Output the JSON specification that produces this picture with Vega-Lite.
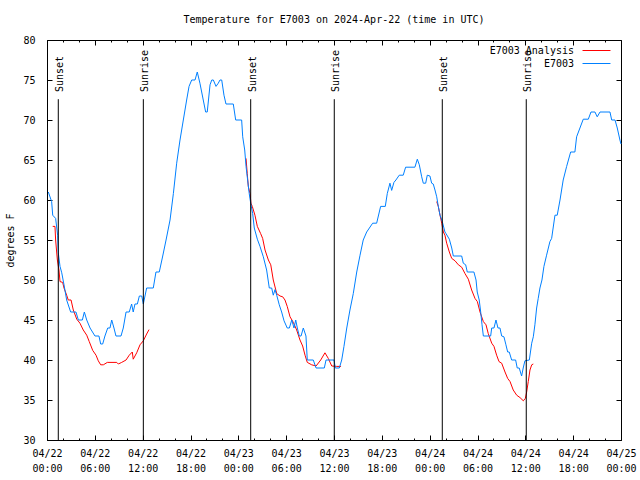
{
  "$schema": "https://vega.github.io/schema/vega-lite/v6.json",
  "width": 574,
  "height": 400,
  "autosize": {"type": "none"},
  "padding": {"left": 47, "top": 40, "right": 19, "bottom": 40},
  "background": "white",
  "title": {"text": "Temperature for E7003 on 2024-Apr-22 (time in UTC)", "font": "DejaVu Sans Mono", "fontSize": 10, "fontWeight": "normal", "color": "black", "offset": 10, "anchor": "middle"},
  "config": {
    "view": {"stroke": "black", "strokeWidth": 1},
    "axis": {"domainColor": "black", "tickColor": "black", "labelColor": "black", "labelFont": "DejaVu Sans Mono", "labelFontSize": 10, "grid": false, "titleFont": "DejaVu Sans Mono", "titleFontSize": 10, "titleFontWeight": "normal", "titleColor": "black"}
  },
  "datasets": {
    "sun": [
      {"t": "2024-04-22T01:25Z", "label": "Sunset"},
      {"t": "2024-04-22T12:05Z", "label": "Sunrise"},
      {"t": "2024-04-23T01:33Z", "label": "Sunset"},
      {"t": "2024-04-23T12:02Z", "label": "Sunrise"},
      {"t": "2024-04-24T01:35Z", "label": "Sunset"},
      {"t": "2024-04-24T12:07Z", "label": "Sunrise"}
    ],
    "ana": [
      {"s": "E7003 Analysis", "r": "a", "t": "2024-04-22T00:43Z", "v": 56.7},
      {"s": "E7003 Analysis", "r": "a", "t": "2024-04-22T01:00Z", "v": 56.7},
      {"s": "E7003 Analysis", "r": "a", "t": "2024-04-22T01:05Z", "v": 55},
      {"s": "E7003 Analysis", "r": "a", "t": "2024-04-22T01:18Z", "v": 52.5},
      {"s": "E7003 Analysis", "r": "a", "t": "2024-04-22T01:30Z", "v": 51.25},
      {"s": "E7003 Analysis", "r": "a", "t": "2024-04-22T01:38Z", "v": 49.8},
      {"s": "E7003 Analysis", "r": "a", "t": "2024-04-22T01:58Z", "v": 49.7},
      {"s": "E7003 Analysis", "r": "a", "t": "2024-04-22T02:08Z", "v": 49},
      {"s": "E7003 Analysis", "r": "a", "t": "2024-04-22T02:28Z", "v": 48.1},
      {"s": "E7003 Analysis", "r": "a", "t": "2024-04-22T02:40Z", "v": 47.5},
      {"s": "E7003 Analysis", "r": "a", "t": "2024-04-22T03:01Z", "v": 47.5},
      {"s": "E7003 Analysis", "r": "a", "t": "2024-04-22T03:18Z", "v": 46.25},
      {"s": "E7003 Analysis", "r": "a", "t": "2024-04-22T03:44Z", "v": 45.1},
      {"s": "E7003 Analysis", "r": "a", "t": "2024-04-22T04:08Z", "v": 44.6},
      {"s": "E7003 Analysis", "r": "a", "t": "2024-04-22T04:33Z", "v": 43.75},
      {"s": "E7003 Analysis", "r": "a", "t": "2024-04-22T04:59Z", "v": 43.1},
      {"s": "E7003 Analysis", "r": "a", "t": "2024-04-22T05:18Z", "v": 42.3},
      {"s": "E7003 Analysis", "r": "a", "t": "2024-04-22T05:44Z", "v": 41.2},
      {"s": "E7003 Analysis", "r": "a", "t": "2024-04-22T06:09Z", "v": 40.6},
      {"s": "E7003 Analysis", "r": "a", "t": "2024-04-22T06:26Z", "v": 39.9},
      {"s": "E7003 Analysis", "r": "a", "t": "2024-04-22T06:44Z", "v": 39.4},
      {"s": "E7003 Analysis", "r": "a", "t": "2024-04-22T07:04Z", "v": 39.4},
      {"s": "E7003 Analysis", "r": "a", "t": "2024-04-22T07:34Z", "v": 39.7},
      {"s": "E7003 Analysis", "r": "a", "t": "2024-04-22T08:45Z", "v": 39.7},
      {"s": "E7003 Analysis", "r": "a", "t": "2024-04-22T08:57Z", "v": 39.5},
      {"s": "E7003 Analysis", "r": "a", "t": "2024-04-22T09:22Z", "v": 39.7},
      {"s": "E7003 Analysis", "r": "a", "t": "2024-04-22T09:55Z", "v": 40},
      {"s": "E7003 Analysis", "r": "a", "t": "2024-04-22T10:19Z", "v": 40.6},
      {"s": "E7003 Analysis", "r": "a", "t": "2024-04-22T10:42Z", "v": 41},
      {"s": "E7003 Analysis", "r": "a", "t": "2024-04-22T10:49Z", "v": 40.1},
      {"s": "E7003 Analysis", "r": "a", "t": "2024-04-22T11:15Z", "v": 40.9},
      {"s": "E7003 Analysis", "r": "a", "t": "2024-04-22T11:40Z", "v": 41.9},
      {"s": "E7003 Analysis", "r": "a", "t": "2024-04-22T12:05Z", "v": 42.4},
      {"s": "E7003 Analysis", "r": "a", "t": "2024-04-22T12:30Z", "v": 43.25},
      {"s": "E7003 Analysis", "r": "a", "t": "2024-04-22T12:48Z", "v": 43.8},
      {"s": "E7003 Analysis", "r": "b", "t": "2024-04-23T00:58Z", "v": 65.2},
      {"s": "E7003 Analysis", "r": "b", "t": "2024-04-23T01:07Z", "v": 63.3},
      {"s": "E7003 Analysis", "r": "b", "t": "2024-04-23T01:15Z", "v": 61.7},
      {"s": "E7003 Analysis", "r": "b", "t": "2024-04-23T01:28Z", "v": 60.8},
      {"s": "E7003 Analysis", "r": "b", "t": "2024-04-23T01:35Z", "v": 59.6},
      {"s": "E7003 Analysis", "r": "b", "t": "2024-04-23T01:45Z", "v": 59.2},
      {"s": "E7003 Analysis", "r": "b", "t": "2024-04-23T02:05Z", "v": 58.1},
      {"s": "E7003 Analysis", "r": "b", "t": "2024-04-23T02:23Z", "v": 56.7},
      {"s": "E7003 Analysis", "r": "b", "t": "2024-04-23T02:48Z", "v": 55.8},
      {"s": "E7003 Analysis", "r": "b", "t": "2024-04-23T03:03Z", "v": 55.2},
      {"s": "E7003 Analysis", "r": "b", "t": "2024-04-23T03:21Z", "v": 53.75},
      {"s": "E7003 Analysis", "r": "b", "t": "2024-04-23T03:46Z", "v": 52.5},
      {"s": "E7003 Analysis", "r": "b", "t": "2024-04-23T04:04Z", "v": 51.9},
      {"s": "E7003 Analysis", "r": "b", "t": "2024-04-23T04:23Z", "v": 50},
      {"s": "E7003 Analysis", "r": "b", "t": "2024-04-23T04:49Z", "v": 48.3},
      {"s": "E7003 Analysis", "r": "b", "t": "2024-04-23T05:14Z", "v": 48},
      {"s": "E7003 Analysis", "r": "b", "t": "2024-04-23T05:34Z", "v": 47.9},
      {"s": "E7003 Analysis", "r": "b", "t": "2024-04-23T05:51Z", "v": 47.5},
      {"s": "E7003 Analysis", "r": "b", "t": "2024-04-23T06:08Z", "v": 46.7},
      {"s": "E7003 Analysis", "r": "b", "t": "2024-04-23T06:29Z", "v": 45.4},
      {"s": "E7003 Analysis", "r": "b", "t": "2024-04-23T06:54Z", "v": 44.7},
      {"s": "E7003 Analysis", "r": "b", "t": "2024-04-23T07:19Z", "v": 43.75},
      {"s": "E7003 Analysis", "r": "b", "t": "2024-04-23T07:44Z", "v": 42.5},
      {"s": "E7003 Analysis", "r": "b", "t": "2024-04-23T08:04Z", "v": 41.75},
      {"s": "E7003 Analysis", "r": "b", "t": "2024-04-23T08:22Z", "v": 40.6},
      {"s": "E7003 Analysis", "r": "b", "t": "2024-04-23T08:39Z", "v": 39.7},
      {"s": "E7003 Analysis", "r": "b", "t": "2024-04-23T09:12Z", "v": 39.4},
      {"s": "E7003 Analysis", "r": "b", "t": "2024-04-23T09:45Z", "v": 39.25},
      {"s": "E7003 Analysis", "r": "b", "t": "2024-04-23T10:20Z", "v": 40},
      {"s": "E7003 Analysis", "r": "b", "t": "2024-04-23T10:52Z", "v": 40.9},
      {"s": "E7003 Analysis", "r": "b", "t": "2024-04-23T11:17Z", "v": 40.2},
      {"s": "E7003 Analysis", "r": "b", "t": "2024-04-23T11:43Z", "v": 39.25},
      {"s": "E7003 Analysis", "r": "b", "t": "2024-04-23T12:20Z", "v": 39.2},
      {"s": "E7003 Analysis", "r": "b", "t": "2024-04-23T12:53Z", "v": 39.2},
      {"s": "E7003 Analysis", "r": "c", "t": "2024-04-24T00:53Z", "v": 59.8},
      {"s": "E7003 Analysis", "r": "c", "t": "2024-04-24T01:05Z", "v": 59.2},
      {"s": "E7003 Analysis", "r": "c", "t": "2024-04-24T01:18Z", "v": 58.1},
      {"s": "E7003 Analysis", "r": "c", "t": "2024-04-24T01:31Z", "v": 57.1},
      {"s": "E7003 Analysis", "r": "c", "t": "2024-04-24T01:43Z", "v": 56},
      {"s": "E7003 Analysis", "r": "c", "t": "2024-04-24T01:55Z", "v": 55.6},
      {"s": "E7003 Analysis", "r": "c", "t": "2024-04-24T02:08Z", "v": 54.6},
      {"s": "E7003 Analysis", "r": "c", "t": "2024-04-24T02:28Z", "v": 53.5},
      {"s": "E7003 Analysis", "r": "c", "t": "2024-04-24T02:46Z", "v": 52.7},
      {"s": "E7003 Analysis", "r": "c", "t": "2024-04-24T03:11Z", "v": 52.4},
      {"s": "E7003 Analysis", "r": "c", "t": "2024-04-24T03:36Z", "v": 51.9},
      {"s": "E7003 Analysis", "r": "c", "t": "2024-04-24T04:01Z", "v": 51.6},
      {"s": "E7003 Analysis", "r": "c", "t": "2024-04-24T04:26Z", "v": 50.8},
      {"s": "E7003 Analysis", "r": "c", "t": "2024-04-24T04:51Z", "v": 50.1},
      {"s": "E7003 Analysis", "r": "c", "t": "2024-04-24T05:16Z", "v": 48.75},
      {"s": "E7003 Analysis", "r": "c", "t": "2024-04-24T05:41Z", "v": 47.7},
      {"s": "E7003 Analysis", "r": "c", "t": "2024-04-24T05:59Z", "v": 47.3},
      {"s": "E7003 Analysis", "r": "c", "t": "2024-04-24T06:19Z", "v": 46},
      {"s": "E7003 Analysis", "r": "c", "t": "2024-04-24T06:44Z", "v": 44.8},
      {"s": "E7003 Analysis", "r": "c", "t": "2024-04-24T07:04Z", "v": 44.4},
      {"s": "E7003 Analysis", "r": "c", "t": "2024-04-24T07:21Z", "v": 43.3},
      {"s": "E7003 Analysis", "r": "c", "t": "2024-04-24T07:47Z", "v": 42.1},
      {"s": "E7003 Analysis", "r": "c", "t": "2024-04-24T08:04Z", "v": 41.7},
      {"s": "E7003 Analysis", "r": "c", "t": "2024-04-24T08:24Z", "v": 40.6},
      {"s": "E7003 Analysis", "r": "c", "t": "2024-04-24T08:42Z", "v": 39.8},
      {"s": "E7003 Analysis", "r": "c", "t": "2024-04-24T09:02Z", "v": 39.6},
      {"s": "E7003 Analysis", "r": "c", "t": "2024-04-24T09:27Z", "v": 38.5},
      {"s": "E7003 Analysis", "r": "c", "t": "2024-04-24T09:47Z", "v": 37.7},
      {"s": "E7003 Analysis", "r": "c", "t": "2024-04-24T10:05Z", "v": 37.3},
      {"s": "E7003 Analysis", "r": "c", "t": "2024-04-24T10:29Z", "v": 36.25},
      {"s": "E7003 Analysis", "r": "c", "t": "2024-04-24T10:55Z", "v": 35.6},
      {"s": "E7003 Analysis", "r": "c", "t": "2024-04-24T11:20Z", "v": 35.3},
      {"s": "E7003 Analysis", "r": "c", "t": "2024-04-24T11:45Z", "v": 34.9},
      {"s": "E7003 Analysis", "r": "c", "t": "2024-04-24T12:00Z", "v": 35.2},
      {"s": "E7003 Analysis", "r": "c", "t": "2024-04-24T12:10Z", "v": 36},
      {"s": "E7003 Analysis", "r": "c", "t": "2024-04-24T12:22Z", "v": 37.3},
      {"s": "E7003 Analysis", "r": "c", "t": "2024-04-24T12:35Z", "v": 38.75},
      {"s": "E7003 Analysis", "r": "c", "t": "2024-04-24T12:48Z", "v": 39.4},
      {"s": "E7003 Analysis", "r": "c", "t": "2024-04-24T13:00Z", "v": 39.5}
    ],
    "obs": [
      {"s": "E7003", "t": "2024-04-22T00:10Z", "v": 61},
      {"s": "E7003", "t": "2024-04-22T00:35Z", "v": 59.8},
      {"s": "E7003", "t": "2024-04-22T00:43Z", "v": 58.1},
      {"s": "E7003", "t": "2024-04-22T01:05Z", "v": 57.7},
      {"s": "E7003", "t": "2024-04-22T01:20Z", "v": 55.6},
      {"s": "E7003", "t": "2024-04-22T01:25Z", "v": 53.4},
      {"s": "E7003", "t": "2024-04-22T01:38Z", "v": 51.7},
      {"s": "E7003", "t": "2024-04-22T01:51Z", "v": 50.9},
      {"s": "E7003", "t": "2024-04-22T02:08Z", "v": 49.4},
      {"s": "E7003", "t": "2024-04-22T02:28Z", "v": 47.5},
      {"s": "E7003", "t": "2024-04-22T02:58Z", "v": 46},
      {"s": "E7003", "t": "2024-04-22T03:38Z", "v": 46},
      {"s": "E7003", "t": "2024-04-22T03:56Z", "v": 45},
      {"s": "E7003", "t": "2024-04-22T04:26Z", "v": 45},
      {"s": "E7003", "t": "2024-04-22T04:41Z", "v": 46},
      {"s": "E7003", "t": "2024-04-22T04:59Z", "v": 45},
      {"s": "E7003", "t": "2024-04-22T05:24Z", "v": 44},
      {"s": "E7003", "t": "2024-04-22T06:01Z", "v": 43},
      {"s": "E7003", "t": "2024-04-22T06:31Z", "v": 43},
      {"s": "E7003", "t": "2024-04-22T06:44Z", "v": 42},
      {"s": "E7003", "t": "2024-04-22T06:59Z", "v": 42},
      {"s": "E7003", "t": "2024-04-22T07:16Z", "v": 43},
      {"s": "E7003", "t": "2024-04-22T07:37Z", "v": 44},
      {"s": "E7003", "t": "2024-04-22T07:54Z", "v": 44},
      {"s": "E7003", "t": "2024-04-22T08:07Z", "v": 45},
      {"s": "E7003", "t": "2024-04-22T08:24Z", "v": 44},
      {"s": "E7003", "t": "2024-04-22T08:39Z", "v": 43},
      {"s": "E7003", "t": "2024-04-22T09:17Z", "v": 43},
      {"s": "E7003", "t": "2024-04-22T09:34Z", "v": 44},
      {"s": "E7003", "t": "2024-04-22T09:55Z", "v": 46},
      {"s": "E7003", "t": "2024-04-22T10:19Z", "v": 46},
      {"s": "E7003", "t": "2024-04-22T10:37Z", "v": 47},
      {"s": "E7003", "t": "2024-04-22T10:49Z", "v": 46},
      {"s": "E7003", "t": "2024-04-22T11:02Z", "v": 47},
      {"s": "E7003", "t": "2024-04-22T11:20Z", "v": 47},
      {"s": "E7003", "t": "2024-04-22T11:35Z", "v": 48},
      {"s": "E7003", "t": "2024-04-22T11:53Z", "v": 48},
      {"s": "E7003", "t": "2024-04-22T12:05Z", "v": 47},
      {"s": "E7003", "t": "2024-04-22T12:30Z", "v": 49},
      {"s": "E7003", "t": "2024-04-22T13:20Z", "v": 49},
      {"s": "E7003", "t": "2024-04-22T13:40Z", "v": 51},
      {"s": "E7003", "t": "2024-04-22T14:05Z", "v": 51},
      {"s": "E7003", "t": "2024-04-22T14:31Z", "v": 53},
      {"s": "E7003", "t": "2024-04-22T14:56Z", "v": 55},
      {"s": "E7003", "t": "2024-04-22T15:26Z", "v": 57.5},
      {"s": "E7003", "t": "2024-04-22T15:51Z", "v": 60.8},
      {"s": "E7003", "t": "2024-04-22T16:16Z", "v": 64.6},
      {"s": "E7003", "t": "2024-04-22T16:41Z", "v": 67.5},
      {"s": "E7003", "t": "2024-04-22T17:06Z", "v": 70},
      {"s": "E7003", "t": "2024-04-22T17:31Z", "v": 72.5},
      {"s": "E7003", "t": "2024-04-22T17:49Z", "v": 74.2},
      {"s": "E7003", "t": "2024-04-22T18:09Z", "v": 75},
      {"s": "E7003", "t": "2024-04-22T18:34Z", "v": 75},
      {"s": "E7003", "t": "2024-04-22T18:51Z", "v": 76},
      {"s": "E7003", "t": "2024-04-22T19:11Z", "v": 74.6},
      {"s": "E7003", "t": "2024-04-22T19:36Z", "v": 72.5},
      {"s": "E7003", "t": "2024-04-22T19:54Z", "v": 71},
      {"s": "E7003", "t": "2024-04-22T20:06Z", "v": 71},
      {"s": "E7003", "t": "2024-04-22T20:27Z", "v": 74.4},
      {"s": "E7003", "t": "2024-04-22T20:40Z", "v": 75},
      {"s": "E7003", "t": "2024-04-22T20:52Z", "v": 75},
      {"s": "E7003", "t": "2024-04-22T21:12Z", "v": 74.2},
      {"s": "E7003", "t": "2024-04-22T21:29Z", "v": 74.6},
      {"s": "E7003", "t": "2024-04-22T21:42Z", "v": 75},
      {"s": "E7003", "t": "2024-04-22T21:55Z", "v": 75},
      {"s": "E7003", "t": "2024-04-22T22:12Z", "v": 73.1},
      {"s": "E7003", "t": "2024-04-22T22:27Z", "v": 72},
      {"s": "E7003", "t": "2024-04-22T23:22Z", "v": 72},
      {"s": "E7003", "t": "2024-04-22T23:40Z", "v": 70},
      {"s": "E7003", "t": "2024-04-23T00:25Z", "v": 70},
      {"s": "E7003", "t": "2024-04-23T00:33Z", "v": 67.9},
      {"s": "E7003", "t": "2024-04-23T00:48Z", "v": 66.25},
      {"s": "E7003", "t": "2024-04-23T00:58Z", "v": 64.2},
      {"s": "E7003", "t": "2024-04-23T01:10Z", "v": 62.5},
      {"s": "E7003", "t": "2024-04-23T01:22Z", "v": 60.8},
      {"s": "E7003", "t": "2024-04-23T01:33Z", "v": 59.6},
      {"s": "E7003", "t": "2024-04-23T01:48Z", "v": 58.3},
      {"s": "E7003", "t": "2024-04-23T02:00Z", "v": 56.5},
      {"s": "E7003", "t": "2024-04-23T02:23Z", "v": 55.1},
      {"s": "E7003", "t": "2024-04-23T02:43Z", "v": 54.2},
      {"s": "E7003", "t": "2024-04-23T03:08Z", "v": 52.9},
      {"s": "E7003", "t": "2024-04-23T03:33Z", "v": 51.25},
      {"s": "E7003", "t": "2024-04-23T03:53Z", "v": 49},
      {"s": "E7003", "t": "2024-04-23T04:11Z", "v": 49},
      {"s": "E7003", "t": "2024-04-23T04:23Z", "v": 48.1},
      {"s": "E7003", "t": "2024-04-23T04:36Z", "v": 48.8},
      {"s": "E7003", "t": "2024-04-23T04:49Z", "v": 48.1},
      {"s": "E7003", "t": "2024-04-23T05:08Z", "v": 46.9},
      {"s": "E7003", "t": "2024-04-23T05:26Z", "v": 46},
      {"s": "E7003", "t": "2024-04-23T05:44Z", "v": 44.9},
      {"s": "E7003", "t": "2024-04-23T06:08Z", "v": 44},
      {"s": "E7003", "t": "2024-04-23T06:24Z", "v": 44},
      {"s": "E7003", "t": "2024-04-23T06:42Z", "v": 45},
      {"s": "E7003", "t": "2024-04-23T06:59Z", "v": 44},
      {"s": "E7003", "t": "2024-04-23T07:12Z", "v": 45},
      {"s": "E7003", "t": "2024-04-23T07:24Z", "v": 44},
      {"s": "E7003", "t": "2024-04-23T07:39Z", "v": 43},
      {"s": "E7003", "t": "2024-04-23T07:52Z", "v": 43},
      {"s": "E7003", "t": "2024-04-23T08:09Z", "v": 44},
      {"s": "E7003", "t": "2024-04-23T08:29Z", "v": 43},
      {"s": "E7003", "t": "2024-04-23T08:39Z", "v": 40},
      {"s": "E7003", "t": "2024-04-23T09:24Z", "v": 40},
      {"s": "E7003", "t": "2024-04-23T09:45Z", "v": 39},
      {"s": "E7003", "t": "2024-04-23T10:47Z", "v": 39},
      {"s": "E7003", "t": "2024-04-23T11:00Z", "v": 40},
      {"s": "E7003", "t": "2024-04-23T12:00Z", "v": 40},
      {"s": "E7003", "t": "2024-04-23T12:10Z", "v": 39},
      {"s": "E7003", "t": "2024-04-23T12:40Z", "v": 39},
      {"s": "E7003", "t": "2024-04-23T12:58Z", "v": 40},
      {"s": "E7003", "t": "2024-04-23T13:15Z", "v": 41.7},
      {"s": "E7003", "t": "2024-04-23T13:36Z", "v": 44},
      {"s": "E7003", "t": "2024-04-23T14:00Z", "v": 46.25},
      {"s": "E7003", "t": "2024-04-23T14:25Z", "v": 48.3},
      {"s": "E7003", "t": "2024-04-23T14:51Z", "v": 51},
      {"s": "E7003", "t": "2024-04-23T15:16Z", "v": 53.1},
      {"s": "E7003", "t": "2024-04-23T15:40Z", "v": 55},
      {"s": "E7003", "t": "2024-04-23T16:06Z", "v": 56},
      {"s": "E7003", "t": "2024-04-23T16:51Z", "v": 57.1},
      {"s": "E7003", "t": "2024-04-23T17:21Z", "v": 57.1},
      {"s": "E7003", "t": "2024-04-23T17:51Z", "v": 59.2},
      {"s": "E7003", "t": "2024-04-23T18:26Z", "v": 59.2},
      {"s": "E7003", "t": "2024-04-23T18:41Z", "v": 60.8},
      {"s": "E7003", "t": "2024-04-23T19:01Z", "v": 62.1},
      {"s": "E7003", "t": "2024-04-23T19:14Z", "v": 61.2},
      {"s": "E7003", "t": "2024-04-23T19:31Z", "v": 62.2},
      {"s": "E7003", "t": "2024-04-23T19:46Z", "v": 62.5},
      {"s": "E7003", "t": "2024-04-23T20:11Z", "v": 63.1},
      {"s": "E7003", "t": "2024-04-23T20:41Z", "v": 63.1},
      {"s": "E7003", "t": "2024-04-23T20:59Z", "v": 64.1},
      {"s": "E7003", "t": "2024-04-23T22:09Z", "v": 64.1},
      {"s": "E7003", "t": "2024-04-23T22:27Z", "v": 65.1},
      {"s": "E7003", "t": "2024-04-23T22:42Z", "v": 64.4},
      {"s": "E7003", "t": "2024-04-23T23:00Z", "v": 62.9},
      {"s": "E7003", "t": "2024-04-23T23:12Z", "v": 62.1},
      {"s": "E7003", "t": "2024-04-23T23:30Z", "v": 62.1},
      {"s": "E7003", "t": "2024-04-23T23:42Z", "v": 63.1},
      {"s": "E7003", "t": "2024-04-24T00:02Z", "v": 63},
      {"s": "E7003", "t": "2024-04-24T00:15Z", "v": 62.1},
      {"s": "E7003", "t": "2024-04-24T00:27Z", "v": 62},
      {"s": "E7003", "t": "2024-04-24T00:40Z", "v": 61.25},
      {"s": "E7003", "t": "2024-04-24T00:53Z", "v": 60.4},
      {"s": "E7003", "t": "2024-04-24T01:05Z", "v": 59.2},
      {"s": "E7003", "t": "2024-04-24T01:18Z", "v": 58.1},
      {"s": "E7003", "t": "2024-04-24T01:35Z", "v": 57.3},
      {"s": "E7003", "t": "2024-04-24T01:55Z", "v": 56},
      {"s": "E7003", "t": "2024-04-24T02:03Z", "v": 55.8},
      {"s": "E7003", "t": "2024-04-24T02:28Z", "v": 55.1},
      {"s": "E7003", "t": "2024-04-24T02:46Z", "v": 54},
      {"s": "E7003", "t": "2024-04-24T02:58Z", "v": 53},
      {"s": "E7003", "t": "2024-04-24T04:01Z", "v": 53},
      {"s": "E7003", "t": "2024-04-24T04:13Z", "v": 52.1},
      {"s": "E7003", "t": "2024-04-24T04:31Z", "v": 51.9},
      {"s": "E7003", "t": "2024-04-24T04:43Z", "v": 51},
      {"s": "E7003", "t": "2024-04-24T05:33Z", "v": 51},
      {"s": "E7003", "t": "2024-04-24T05:49Z", "v": 50},
      {"s": "E7003", "t": "2024-04-24T05:58Z", "v": 48.5},
      {"s": "E7003", "t": "2024-04-24T06:13Z", "v": 47.5},
      {"s": "E7003", "t": "2024-04-24T06:24Z", "v": 46},
      {"s": "E7003", "t": "2024-04-24T06:34Z", "v": 44.4},
      {"s": "E7003", "t": "2024-04-24T06:44Z", "v": 43},
      {"s": "E7003", "t": "2024-04-24T07:39Z", "v": 43},
      {"s": "E7003", "t": "2024-04-24T07:47Z", "v": 44},
      {"s": "E7003", "t": "2024-04-24T08:04Z", "v": 44},
      {"s": "E7003", "t": "2024-04-24T08:19Z", "v": 45},
      {"s": "E7003", "t": "2024-04-24T08:34Z", "v": 44},
      {"s": "E7003", "t": "2024-04-24T08:49Z", "v": 44},
      {"s": "E7003", "t": "2024-04-24T09:02Z", "v": 43},
      {"s": "E7003", "t": "2024-04-24T09:19Z", "v": 42.9},
      {"s": "E7003", "t": "2024-04-24T09:34Z", "v": 41.9},
      {"s": "E7003", "t": "2024-04-24T09:47Z", "v": 41},
      {"s": "E7003", "t": "2024-04-24T09:59Z", "v": 41},
      {"s": "E7003", "t": "2024-04-24T10:17Z", "v": 40},
      {"s": "E7003", "t": "2024-04-24T10:47Z", "v": 40},
      {"s": "E7003", "t": "2024-04-24T10:59Z", "v": 39},
      {"s": "E7003", "t": "2024-04-24T11:14Z", "v": 39},
      {"s": "E7003", "t": "2024-04-24T11:32Z", "v": 38},
      {"s": "E7003", "t": "2024-04-24T11:44Z", "v": 39},
      {"s": "E7003", "t": "2024-04-24T11:57Z", "v": 39.9},
      {"s": "E7003", "t": "2024-04-24T12:30Z", "v": 40},
      {"s": "E7003", "t": "2024-04-24T12:48Z", "v": 42.1},
      {"s": "E7003", "t": "2024-04-24T13:00Z", "v": 42.9},
      {"s": "E7003", "t": "2024-04-24T13:12Z", "v": 44.4},
      {"s": "E7003", "t": "2024-04-24T13:25Z", "v": 46.5},
      {"s": "E7003", "t": "2024-04-24T13:37Z", "v": 47.7},
      {"s": "E7003", "t": "2024-04-24T13:50Z", "v": 49},
      {"s": "E7003", "t": "2024-04-24T14:05Z", "v": 50},
      {"s": "E7003", "t": "2024-04-24T14:20Z", "v": 51.7},
      {"s": "E7003", "t": "2024-04-24T14:40Z", "v": 53.1},
      {"s": "E7003", "t": "2024-04-24T15:05Z", "v": 54.8},
      {"s": "E7003", "t": "2024-04-24T15:18Z", "v": 55.2},
      {"s": "E7003", "t": "2024-04-24T15:43Z", "v": 58.1},
      {"s": "E7003", "t": "2024-04-24T16:00Z", "v": 58.1},
      {"s": "E7003", "t": "2024-04-24T16:21Z", "v": 60},
      {"s": "E7003", "t": "2024-04-24T16:45Z", "v": 62.5},
      {"s": "E7003", "t": "2024-04-24T17:11Z", "v": 64.2},
      {"s": "E7003", "t": "2024-04-24T17:41Z", "v": 66},
      {"s": "E7003", "t": "2024-04-24T18:13Z", "v": 66},
      {"s": "E7003", "t": "2024-04-24T18:26Z", "v": 67.9},
      {"s": "E7003", "t": "2024-04-24T18:51Z", "v": 69},
      {"s": "E7003", "t": "2024-04-24T19:16Z", "v": 70.1},
      {"s": "E7003", "t": "2024-04-24T19:54Z", "v": 70.1},
      {"s": "E7003", "t": "2024-04-24T20:14Z", "v": 71},
      {"s": "E7003", "t": "2024-04-24T20:44Z", "v": 71},
      {"s": "E7003", "t": "2024-04-24T21:01Z", "v": 70.4},
      {"s": "E7003", "t": "2024-04-24T21:22Z", "v": 71},
      {"s": "E7003", "t": "2024-04-24T22:37Z", "v": 71},
      {"s": "E7003", "t": "2024-04-24T22:50Z", "v": 70},
      {"s": "E7003", "t": "2024-04-24T23:15Z", "v": 70},
      {"s": "E7003", "t": "2024-04-24T23:32Z", "v": 69},
      {"s": "E7003", "t": "2024-04-24T23:52Z", "v": 67.5},
      {"s": "E7003", "t": "2024-04-25T00:00Z", "v": 67}
    ]
  },
  "layer": [
    {
      "data": {"name": "ana"},
      "mark": {"type": "line", "strokeWidth": 1},
      "encoding": {
        "x": {
          "field": "t", "type": "temporal",
          "scale": {"type": "utc", "domain": [{"year": 2024, "month": 4, "date": 22, "utc": true}, {"year": 2024, "month": 4, "date": 25, "utc": true}], "nice": false},
          "axis": {
            "orient": "bottom", "title": null,
            "values": [
              {"year": 2024, "month": 4, "date": 22, "hours": 0, "utc": true},
              {"year": 2024, "month": 4, "date": 22, "hours": 6, "utc": true},
              {"year": 2024, "month": 4, "date": 22, "hours": 12, "utc": true},
              {"year": 2024, "month": 4, "date": 22, "hours": 18, "utc": true},
              {"year": 2024, "month": 4, "date": 23, "hours": 0, "utc": true},
              {"year": 2024, "month": 4, "date": 23, "hours": 6, "utc": true},
              {"year": 2024, "month": 4, "date": 23, "hours": 12, "utc": true},
              {"year": 2024, "month": 4, "date": 23, "hours": 18, "utc": true},
              {"year": 2024, "month": 4, "date": 24, "hours": 0, "utc": true},
              {"year": 2024, "month": 4, "date": 24, "hours": 6, "utc": true},
              {"year": 2024, "month": 4, "date": 24, "hours": 12, "utc": true},
              {"year": 2024, "month": 4, "date": 24, "hours": 18, "utc": true},
              {"year": 2024, "month": 4, "date": 25, "hours": 0, "utc": true}
            ],
            "tickSize": -5,
            "labelExpr": "[utcFormat(datum.value, '%m/%d'), utcFormat(datum.value, '%H:%M')]",
            "labelPadding": 13, "labelOverlap": false, "labelLineHeight": 15,
            "labelAlign": "center", "labelBaseline": "top", "labelFlush": false
          }
        },
        "y": {
          "field": "v", "type": "quantitative",
          "scale": {"domain": [30, 80], "nice": false, "zero": false},
          "axis": {
            "orient": "left", "values": [30, 35, 40, 45, 50, 55, 60, 65, 70, 75, 80],
            "tickSize": -5, "labelPadding": 17,
            "title": "degrees F", "titleX": -37, "titleY": 200, "titleAngle": 270,
            "titleAlign": "center", "titleBaseline": "middle"
          }
        },
        "color": {
          "field": "s", "type": "nominal",
          "scale": {"domain": ["E7003 Analysis", "E7003"], "range": ["#ff0000", "#0080ff"]},
          "legend": {
            "orient": "none", "legendX": 543, "legendY": 4, "title": null,
            "symbolType": "M-2.33,0H2.33", "symbolSize": 144, "symbolStrokeWidth": 1,
            "labelAlign": "right", "labelOffset": -29, "labelFont": "DejaVu Sans Mono",
            "labelFontSize": 10, "labelColor": "black", "rowPadding": 1, "padding": 0
          }
        },
        "detail": {"field": "r", "type": "nominal"}
      }
    },
    {
      "data": {"name": "obs"},
      "mark": {"type": "line", "strokeWidth": 1},
      "encoding": {
        "x": {
          "field": "t", "type": "temporal",
          "axis": {
            "orient": "top", "title": null, "labels": false, "domain": false, "tickSize": -5,
            "values": [
              {"year": 2024, "month": 4, "date": 22, "hours": 0, "utc": true},
              {"year": 2024, "month": 4, "date": 22, "hours": 6, "utc": true},
              {"year": 2024, "month": 4, "date": 22, "hours": 12, "utc": true},
              {"year": 2024, "month": 4, "date": 22, "hours": 18, "utc": true},
              {"year": 2024, "month": 4, "date": 23, "hours": 0, "utc": true},
              {"year": 2024, "month": 4, "date": 23, "hours": 6, "utc": true},
              {"year": 2024, "month": 4, "date": 23, "hours": 12, "utc": true},
              {"year": 2024, "month": 4, "date": 23, "hours": 18, "utc": true},
              {"year": 2024, "month": 4, "date": 24, "hours": 0, "utc": true},
              {"year": 2024, "month": 4, "date": 24, "hours": 6, "utc": true},
              {"year": 2024, "month": 4, "date": 24, "hours": 12, "utc": true},
              {"year": 2024, "month": 4, "date": 24, "hours": 18, "utc": true},
              {"year": 2024, "month": 4, "date": 25, "hours": 0, "utc": true}
            ]
          }
        },
        "y": {
          "field": "v", "type": "quantitative",
          "axis": {"orient": "right", "title": null, "labels": false, "domain": false, "tickSize": -5, "values": [30, 35, 40, 45, 50, 55, 60, 65, 70, 75, 80]}
        },
        "color": {"field": "s", "type": "nominal"}
      }
    },
    {
      "data": {"name": "sun"},
      "mark": {"type": "rule", "color": "black", "strokeWidth": 1},
      "encoding": {
        "x": {
          "field": "t", "type": "temporal",
          "axis": {
            "orient": "bottom", "title": null, "labels": false, "domain": false, "tickSize": -2,
            "values": [
              {"year": 2024, "month": 4, "date": 22, "hours": 2, "utc": true},
              {"year": 2024, "month": 4, "date": 22, "hours": 4, "utc": true},
              {"year": 2024, "month": 4, "date": 22, "hours": 8, "utc": true},
              {"year": 2024, "month": 4, "date": 22, "hours": 10, "utc": true},
              {"year": 2024, "month": 4, "date": 22, "hours": 14, "utc": true},
              {"year": 2024, "month": 4, "date": 22, "hours": 16, "utc": true},
              {"year": 2024, "month": 4, "date": 22, "hours": 20, "utc": true},
              {"year": 2024, "month": 4, "date": 22, "hours": 22, "utc": true},
              {"year": 2024, "month": 4, "date": 23, "hours": 2, "utc": true},
              {"year": 2024, "month": 4, "date": 23, "hours": 4, "utc": true},
              {"year": 2024, "month": 4, "date": 23, "hours": 8, "utc": true},
              {"year": 2024, "month": 4, "date": 23, "hours": 10, "utc": true},
              {"year": 2024, "month": 4, "date": 23, "hours": 14, "utc": true},
              {"year": 2024, "month": 4, "date": 23, "hours": 16, "utc": true},
              {"year": 2024, "month": 4, "date": 23, "hours": 20, "utc": true},
              {"year": 2024, "month": 4, "date": 23, "hours": 22, "utc": true},
              {"year": 2024, "month": 4, "date": 24, "hours": 2, "utc": true},
              {"year": 2024, "month": 4, "date": 24, "hours": 4, "utc": true},
              {"year": 2024, "month": 4, "date": 24, "hours": 8, "utc": true},
              {"year": 2024, "month": 4, "date": 24, "hours": 10, "utc": true},
              {"year": 2024, "month": 4, "date": 24, "hours": 14, "utc": true},
              {"year": 2024, "month": 4, "date": 24, "hours": 16, "utc": true},
              {"year": 2024, "month": 4, "date": 24, "hours": 20, "utc": true},
              {"year": 2024, "month": 4, "date": 24, "hours": 22, "utc": true}
            ]
          }
        },
        "y": {"datum": 72.6, "axis": null},
        "y2": {"datum": 30}
      }
    },
    {
      "data": {"name": "sun"},
      "mark": {"type": "text", "angle": 270, "align": "left", "baseline": "alphabetic", "dy": 5, "font": "DejaVu Sans Mono", "fontSize": 10, "color": "black"},
      "encoding": {
        "x": {
          "field": "t", "type": "temporal",
          "axis": {
            "orient": "top", "title": null, "labels": false, "domain": false, "tickSize": -2,
            "values": [
              {"year": 2024, "month": 4, "date": 22, "hours": 2, "utc": true},
              {"year": 2024, "month": 4, "date": 22, "hours": 4, "utc": true},
              {"year": 2024, "month": 4, "date": 22, "hours": 8, "utc": true},
              {"year": 2024, "month": 4, "date": 22, "hours": 10, "utc": true},
              {"year": 2024, "month": 4, "date": 22, "hours": 14, "utc": true},
              {"year": 2024, "month": 4, "date": 22, "hours": 16, "utc": true},
              {"year": 2024, "month": 4, "date": 22, "hours": 20, "utc": true},
              {"year": 2024, "month": 4, "date": 22, "hours": 22, "utc": true},
              {"year": 2024, "month": 4, "date": 23, "hours": 2, "utc": true},
              {"year": 2024, "month": 4, "date": 23, "hours": 4, "utc": true},
              {"year": 2024, "month": 4, "date": 23, "hours": 8, "utc": true},
              {"year": 2024, "month": 4, "date": 23, "hours": 10, "utc": true},
              {"year": 2024, "month": 4, "date": 23, "hours": 14, "utc": true},
              {"year": 2024, "month": 4, "date": 23, "hours": 16, "utc": true},
              {"year": 2024, "month": 4, "date": 23, "hours": 20, "utc": true},
              {"year": 2024, "month": 4, "date": 23, "hours": 22, "utc": true},
              {"year": 2024, "month": 4, "date": 24, "hours": 2, "utc": true},
              {"year": 2024, "month": 4, "date": 24, "hours": 4, "utc": true},
              {"year": 2024, "month": 4, "date": 24, "hours": 8, "utc": true},
              {"year": 2024, "month": 4, "date": 24, "hours": 10, "utc": true},
              {"year": 2024, "month": 4, "date": 24, "hours": 14, "utc": true},
              {"year": 2024, "month": 4, "date": 24, "hours": 16, "utc": true},
              {"year": 2024, "month": 4, "date": 24, "hours": 20, "utc": true},
              {"year": 2024, "month": 4, "date": 24, "hours": 22, "utc": true}
            ]
          }
        },
        "y": {"datum": 73.5, "axis": null},
        "text": {"field": "label"}
      }
    }
  ],
  "resolve": {"axis": {"x": "independent", "y": "independent"}}
}
